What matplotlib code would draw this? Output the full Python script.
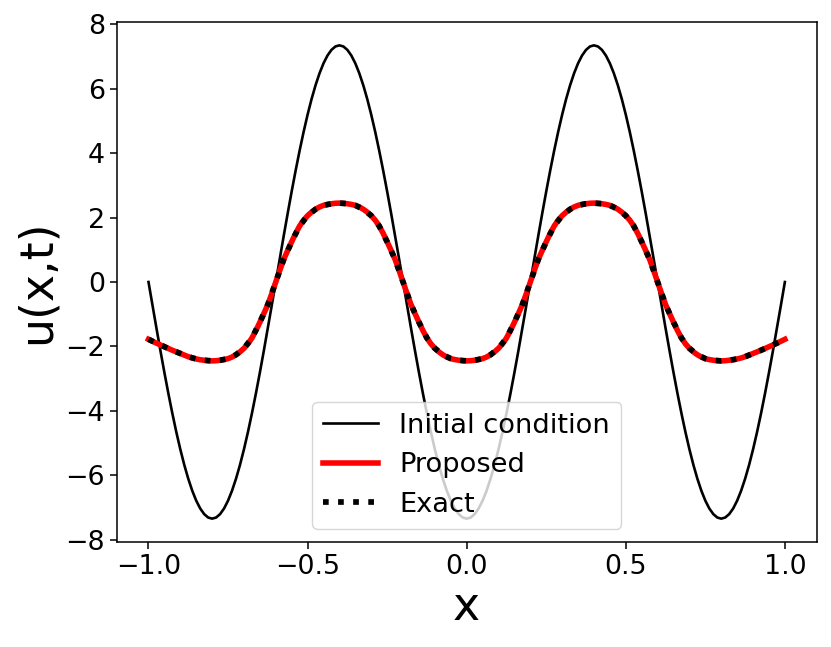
import numpy as np
import matplotlib
matplotlib.use("Agg")
import matplotlib.pyplot as plt

# ===== data =====
x = np.linspace(-1.0, 1.0, 161)
x_exact = np.linspace(-1.0, 1.0, 81)

u_init = [0.0, -0.720, -1.434, -2.134, -2.813, -3.465, -4.083, -4.663, -5.197,
          -5.682, -6.111, -6.482, -6.791, -7.034, -7.209, -7.315, -7.35,
          -7.315, -7.209, -7.034, -6.791, -6.482, -6.111, -5.682, -5.197,
          -4.663, -4.083, -3.465, -2.813, -2.134, -1.434, -0.720, 0.0,
          0.720, 1.434, 2.134, 2.813, 3.465, 4.083, 4.663, 5.197,
          5.682, 6.111, 6.482, 6.791, 7.034, 7.209, 7.315, 7.35,
          7.315, 7.209, 7.034, 6.791, 6.482, 6.111, 5.682, 5.197,
          4.663, 4.083, 3.465, 2.813, 2.134, 1.434, 0.720, 0.0,
          -0.720, -1.434, -2.134, -2.813, -3.465, -4.083, -4.663, -5.197,
          -5.682, -6.111, -6.482, -6.791, -7.034, -7.209, -7.315, -7.35,
          -7.315, -7.209, -7.034, -6.791, -6.482, -6.111, -5.682, -5.197,
          -4.663, -4.083, -3.465, -2.813, -2.134, -1.434, -0.720, 0.0,
          0.720, 1.434, 2.134, 2.813, 3.465, 4.083, 4.663, 5.197,
          5.682, 6.111, 6.482, 6.791, 7.034, 7.209, 7.315, 7.35,
          7.315, 7.209, 7.034, 6.791, 6.482, 6.111, 5.682, 5.197,
          4.663, 4.083, 3.465, 2.813, 2.134, 1.434, 0.720, 0.0,
          -0.720, -1.434, -2.134, -2.813, -3.465, -4.083, -4.663, -5.197,
          -5.682, -6.111, -6.482, -6.791, -7.034, -7.209, -7.315, -7.35,
          -7.315, -7.209, -7.034, -6.791, -6.482, -6.111, -5.682, -5.197,
          -4.663, -4.083, -3.465, -2.813, -2.134, -1.434, -0.720, 0.0]

u_proposed = [-1.78, -1.84, -1.90, -1.955, -2.01, -2.065, -2.12, -2.17, -2.22,
              -2.27, -2.32, -2.36, -2.39, -2.415, -2.43, -2.445, -2.45,
              -2.445, -2.43, -2.41, -2.38, -2.33, -2.26, -2.17, -2.06,
              -1.92, -1.74, -1.51, -1.25, -0.98, -0.70, -0.36, 0.0,
              0.36, 0.70, 0.98, 1.25, 1.51, 1.74, 1.92, 2.06,
              2.17, 2.26, 2.33, 2.38, 2.41, 2.43, 2.445, 2.45,
              2.445, 2.43, 2.41, 2.38, 2.33, 2.26, 2.17, 2.06,
              1.92, 1.74, 1.51, 1.25, 0.98, 0.70, 0.36, 0.0,
              -0.36, -0.70, -0.98, -1.25, -1.51, -1.74, -1.92, -2.06,
              -2.17, -2.26, -2.33, -2.38, -2.41, -2.43, -2.445, -2.45,
              -2.445, -2.43, -2.41, -2.38, -2.33, -2.26, -2.17, -2.06,
              -1.92, -1.74, -1.51, -1.25, -0.98, -0.70, -0.36, 0.0,
              0.36, 0.70, 0.98, 1.25, 1.51, 1.74, 1.92, 2.06,
              2.17, 2.26, 2.33, 2.38, 2.41, 2.43, 2.445, 2.45,
              2.445, 2.43, 2.41, 2.38, 2.33, 2.26, 2.17, 2.06,
              1.92, 1.74, 1.51, 1.25, 0.98, 0.70, 0.36, 0.0,
              -0.36, -0.70, -0.98, -1.25, -1.51, -1.74, -1.92, -2.06,
              -2.17, -2.26, -2.33, -2.38, -2.41, -2.43, -2.445, -2.45,
              -2.445, -2.43, -2.415, -2.39, -2.36, -2.32, -2.27, -2.22,
              -2.17, -2.12, -2.065, -2.01, -1.955, -1.90, -1.84, -1.78]

u_exact = [-1.78, -1.90, -2.01, -2.12, -2.22, -2.32, -2.39, -2.43, -2.45,
           -2.43, -2.38, -2.26, -2.06, -1.74, -1.25, -0.70, 0.0,
           0.70, 1.25, 1.74, 2.06, 2.26, 2.38, 2.43, 2.45,
           2.43, 2.38, 2.26, 2.06, 1.74, 1.25, 0.70, 0.0,
           -0.70, -1.25, -1.74, -2.06, -2.26, -2.38, -2.43, -2.45,
           -2.43, -2.38, -2.26, -2.06, -1.74, -1.25, -0.70, 0.0,
           0.70, 1.25, 1.74, 2.06, 2.26, 2.38, 2.43, 2.45,
           2.43, 2.38, 2.26, 2.06, 1.74, 1.25, 0.70, 0.0,
           -0.70, -1.25, -1.74, -2.06, -2.26, -2.38, -2.43, -2.45,
           -2.43, -2.39, -2.32, -2.22, -2.12, -2.01, -1.90, -1.78]

# ===== plot =====
fig = plt.figure(figsize=(8.31, 6.47), dpi=100)
ax = fig.add_axes([0.1404, 0.1618, 0.8424, 0.8047])

ax.plot(x, u_init, color='black', lw=1.9, label='Initial condition')
ax.plot(x, u_proposed, color='red', lw=4.0, label='Proposed')
ax.plot(x_exact, u_exact, color='black', lw=4.1, ls=':', label='Exact')

ax.set_xlabel('x', fontsize=33)
ax.set_ylabel('u(x,t)', fontsize=33)
ax.set_yticks([-8, -6, -4, -2, 0, 2, 4, 6, 8])
ax.set_xticks([-1.0, -0.5, 0.0, 0.5, 1.0])
ax.tick_params(labelsize=19.4, length=4.8, width=1.1)
for s in ax.spines.values():
    s.set_linewidth(1.1)

ax.legend(loc='lower center', fontsize=19.6)

fig.savefig('out.png', dpi=100)
